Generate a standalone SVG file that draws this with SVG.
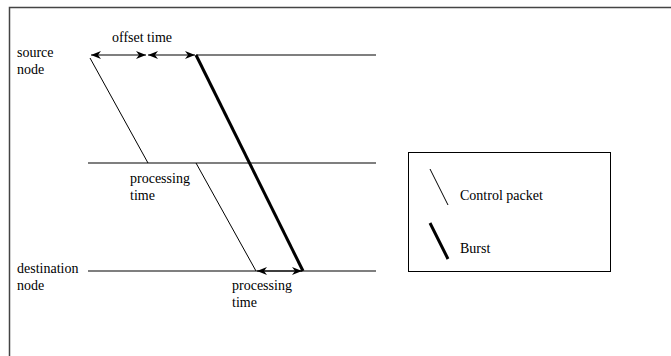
<svg xmlns="http://www.w3.org/2000/svg" width="671" height="356" viewBox="0 0 671 356">
<style>
  text { font-family: "Liberation Serif", "Times New Roman", serif; font-size: 14px; fill: #000; }
  .thin { stroke: #000; stroke-width: 1; fill: none; }
  .bold { stroke: #000; stroke-width: 3; fill: none; }
  .axis { stroke: #000; stroke-width: 1.2; fill: none; }
  .dim { stroke: #000; stroke-width: 1.2; fill: none; marker-start: url(#ah); marker-end: url(#ah); }
</style>
<defs>
  <marker id="ah" viewBox="0 0 10 8" refX="10" refY="4" markerWidth="10" markerHeight="8" markerUnits="userSpaceOnUse" orient="auto-start-reverse">
    <path d="M0,0 L10,4 L0,8 L3,4 Z" fill="#000"/>
  </marker>
</defs>
<rect width="671" height="356" fill="#fff"/>
<g id="frame">
  <path d="M9.5,356 L9.5,7.5 L671,7.5" stroke="#444" stroke-width="1.5" fill="none"/>
</g>
<g id="source-node">
  <line class="axis" x1="196" y1="55" x2="376" y2="55"/>
  <text x="17" y="57">source</text>
  <text x="17" y="74">node</text>
</g>
<g id="intermediate-node">
  <line class="axis" x1="88" y1="163" x2="376" y2="163"/>
  <text x="130" y="183">processing</text>
  <text x="130" y="200">time</text>
</g>
<g id="destination-node">
  <line class="axis" x1="88" y1="271" x2="376" y2="271"/>
  <text x="17" y="273">destination</text>
  <text x="17" y="290">node</text>
  <text x="232" y="290">processing</text>
  <text x="232" y="307">time</text>
</g>
<g id="connectors">
  <line class="thin" x1="90" y1="58" x2="148" y2="163"/>
  <line class="thin" x1="196" y1="163" x2="256" y2="271"/>
  <line class="bold" x1="196" y1="55" x2="303" y2="271"/>
  <line class="dim" x1="91" y1="55" x2="146" y2="55"/>
  <line class="dim" x1="148" y1="55" x2="195" y2="55"/>
  <line class="dim" x1="257" y1="271" x2="302" y2="271"/>
</g>
<g id="offset-label">
  <text x="112" y="42">offset time</text>
</g>
<g id="legend">
  <rect x="408.5" y="152.5" width="202" height="119" fill="none" stroke="#000" stroke-width="1"/>
  <line class="thin" x1="430" y1="169" x2="448" y2="205"/>
  <text x="460" y="200">Control packet</text>
  <line class="bold" x1="430" y1="223" x2="448" y2="259"/>
  <text x="460" y="253">Burst</text>
</g>
</svg>
